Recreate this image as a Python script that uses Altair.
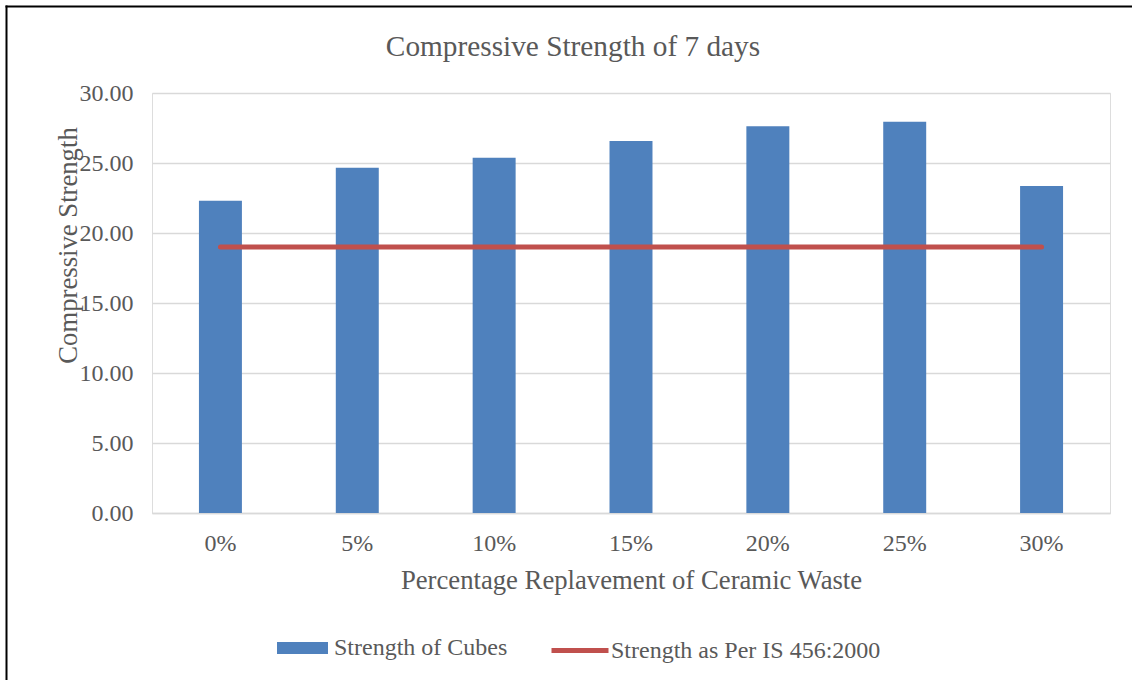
import altair as alt
import pandas as pd

categories = ["0%", "5%", "10%", "15%", "20%", "25%", "30%"]
cube_strength = [22.30, 24.66, 25.38, 26.57, 27.62, 27.95, 23.36]
is_strength = [19.0, 19.0, 19.0, 19.0, 19.0, 19.0, 19.0]
chart_title = "Compressive Strength of 7 days"

FONT = "Liberation Serif"
TXT = "#595959"

df = pd.DataFrame({
    "cat": categories,
    "cubes": cube_strength,
    "std": is_strength,
    "s1": ["Strength of Cubes"] * len(categories),
    "s2": ["Strength as Per IS 456:2000"] * len(categories),
})

x_enc = alt.X(
    "cat:N",
    sort=categories,
    scale=alt.Scale(paddingInner=0.686, paddingOuter=0.343),
    axis=alt.Axis(
        title="Percentage Replavement of Ceramic Waste",
        labelAngle=0,
        labelBaseline="alphabetic",
        labelPadding=37,
        labelFontSize=24,
        labelFont=FONT,
        labelColor=TXT,
        titleFont=FONT,
        titleFontSize=26.7,
        titleFontWeight="normal",
        titleColor=TXT,
        titleBaseline="alphabetic",
        titleY=75,
        ticks=False,
        domain=True,
        domainColor="#D9D9D9",
        domainWidth=1.5,
        grid=False,
    ),
)

y_scale = alt.Scale(domain=[0, 30], nice=False)

bars = alt.Chart(df).mark_bar(color="#4F81BD").encode(
    x=x_enc,
    y=alt.Y(
        "cubes:Q",
        scale=y_scale,
        axis=alt.Axis(
            title="Compressive Strength",
            values=[0, 5, 10, 15, 20, 25, 30],
            format=".2f",
            labelFontSize=24,
            labelFont=FONT,
            labelColor=TXT,
            labelPadding=19,
            ticks=False,
            tickSize=0,
            domain=False,
            grid=True,
            gridColor="#D9D9D9",
            gridWidth=1.5,
            titleFont=FONT,
            titleFontSize=26.7,
            titleFontWeight="normal",
            titleColor=TXT,
            titleAngle=-90,
            titleAlign="center",
            titleBaseline="middle",
            titleX=-84,
            titleY=152,
        ),
    ),
    fill=alt.Fill(
        "s1:N",
        scale=alt.Scale(domain=["Strength of Cubes"], range=["#4F81BD"]),
        legend=alt.Legend(
            title=None,
            orient="none",
            legendX=125,
            legendY=529.5,
            symbolType="M-1,-0.235L1,-0.235L1,0.235L-1,0.235Z",
            symbolSize=2601,
            symbolStrokeWidth=0,
            labelOffset=6,
            labelLimit=600,
            labelFont=FONT,
            labelFontSize=24,
            labelColor=TXT,
            padding=0,
        ),
    ),
)

line = alt.Chart(df).mark_line(strokeWidth=5, strokeCap="round").encode(
    x=alt.X("cat:N", sort=categories),
    y=alt.Y("std:Q", scale=y_scale),
    stroke=alt.Stroke(
        "s2:N",
        scale=alt.Scale(domain=["Strength as Per IS 456:2000"], range=["#C0504D"]),
        legend=alt.Legend(
            title=None,
            orient="none",
            legendX=397,
            legendY=526.5,
            symbolType="stroke",
            symbolSize=3249,
            symbolStrokeWidth=5,
            labelOffset=0,
            labelLimit=600,
            labelFont=FONT,
            labelFontSize=24,
            labelColor=TXT,
            padding=0,
        ),
    ),
)

title = alt.Chart(alt.Data(values=[{"t": chart_title}])).mark_text(
    font=FONT, fontSize=29.3, color=TXT, align="center", baseline="alphabetic"
).encode(
    text="t:N",
    x=alt.value(421),
    y=alt.value(-37),
)

frame_data = alt.Data(values=[{}])
border_left = alt.Chart(frame_data).mark_rule(color="black", strokeWidth=2).encode(
    x=alt.value(-145.5),
    y=alt.value(-87.5),
    y2=alt.value(587),
)
border_top = alt.Chart(frame_data).mark_rule(color="black", strokeWidth=2).encode(
    x=alt.value(-146.5),
    x2=alt.value(980),
    y=alt.value(-86.5),
)

chart = alt.layer(bars, line, title, border_left, border_top).resolve_scale(
    fill="independent", stroke="independent"
).properties(
    width=958,
    height=420,
    padding={"left": 152, "top": 93, "right": 22, "bottom": 167},
    autosize=alt.AutoSizeParams(type="none"),
).configure_view(strokeWidth=0, stroke="transparent").configure(background="white")

chart.save("out.html", embed_options={"renderer": "svg", "actions": False})
